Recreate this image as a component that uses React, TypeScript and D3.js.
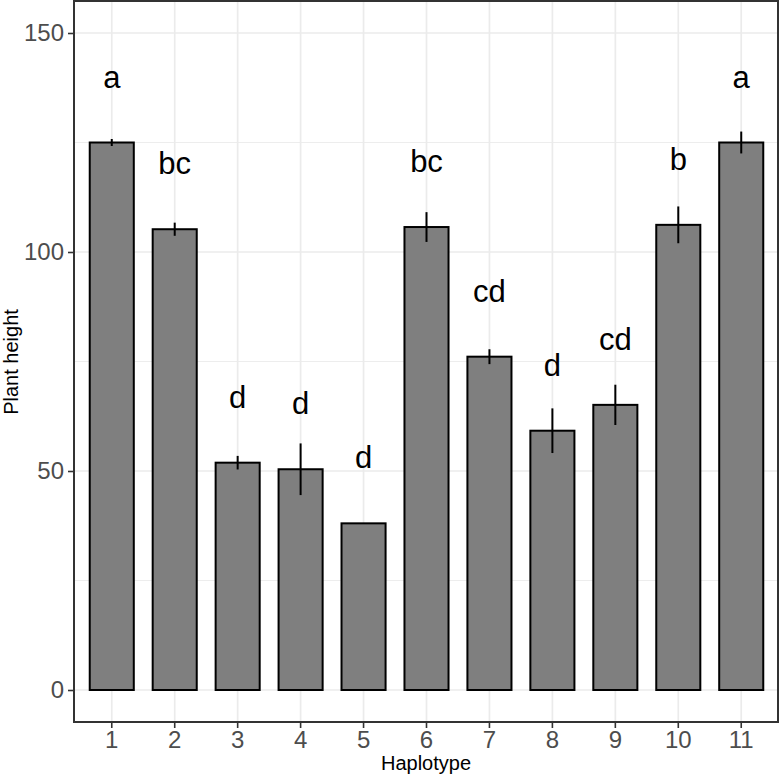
import { FC, useRef, useEffect } from 'react'
import * as d3 from 'd3'

const haplotypes = ['1', '2', '3', '4', '5', '6', '7', '8', '9', '10', '11']
const meanHeight = [125, 105.2, 51.9, 50.4, 38.05, 105.7, 76.1, 59.2, 65.1, 106.2, 125]
const seHeight = [0.8, 1.5, 1.55, 5.9, 0, 3.4, 1.7, 5.1, 4.6, 4.2, 2.5]
const groupLetters = ['a', 'bc', 'd', 'd', 'd', 'bc', 'cd', 'd', 'cd', 'b', 'a']
const yMajorTicks = [0, 50, 100, 150]
const yMinorTicks = [25, 75, 125]

const LETTER_OFFSET = 15

const App: FC = () => {
  const svgRef = useRef<SVGSVGElement>(null)

  useEffect(() => {
    if (!svgRef.current) return

    const width = 779
    const height = 778
    const panel = { left: 74, right: 778, top: 1, bottom: 722 }
    const font = '"Liberation Sans", Arial, sans-serif'

    const svg = d3.select(svgRef.current)
    svg.selectAll('*').remove()
    svg.attr('width', width).attr('height', height)

    const xScale = d3.scaleBand<string>()
      .domain(haplotypes)
      .range([panel.left, 779])
      .paddingInner(0)
      .paddingOuter(0.1)

    const yScale = d3.scaleLinear()
      .domain([0, 150])
      .range([690, 33])

    const cx = (h: string) => (xScale(h) || 0) + xScale.bandwidth() / 2
    const barWidth = xScale.bandwidth() * 0.7

    // panel background + grid
    svg.append('rect')
      .attr('x', panel.left)
      .attr('y', panel.top)
      .attr('width', panel.right - panel.left)
      .attr('height', panel.bottom - panel.top)
      .attr('fill', '#ffffff')

    svg.append('g')
      .selectAll('line')
      .data(yMinorTicks)
      .join('line')
      .attr('x1', panel.left)
      .attr('x2', panel.right)
      .attr('y1', d => yScale(d))
      .attr('y2', d => yScale(d))
      .attr('stroke', '#ebebeb')
      .attr('stroke-width', 0.9)

    svg.append('g')
      .selectAll('line')
      .data(yMajorTicks)
      .join('line')
      .attr('x1', panel.left)
      .attr('x2', panel.right)
      .attr('y1', d => yScale(d))
      .attr('y2', d => yScale(d))
      .attr('stroke', '#ebebeb')
      .attr('stroke-width', 1.7)

    svg.append('g')
      .selectAll('line')
      .data(haplotypes)
      .join('line')
      .attr('x1', d => cx(d))
      .attr('x2', d => cx(d))
      .attr('y1', panel.top)
      .attr('y2', panel.bottom)
      .attr('stroke', '#ebebeb')
      .attr('stroke-width', 1.7)

    // bars
    svg.append('g')
      .selectAll('rect')
      .data(haplotypes)
      .join('rect')
      .attr('x', d => cx(d) - barWidth / 2)
      .attr('y', (_, i) => yScale(meanHeight[i]))
      .attr('width', barWidth)
      .attr('height', (_, i) => yScale(0) - yScale(meanHeight[i]))
      .attr('fill', '#7f7f7f')
      .attr('stroke', '#000000')
      .attr('stroke-width', 2)

    // error bars
    svg.append('g')
      .selectAll('line')
      .data(haplotypes)
      .join('line')
      .attr('x1', d => cx(d))
      .attr('x2', d => cx(d))
      .attr('y1', (_, i) => yScale(meanHeight[i] - seHeight[i]))
      .attr('y2', (_, i) => yScale(meanHeight[i] + seHeight[i]))
      .attr('stroke', '#000000')
      .attr('stroke-width', 2)

    // significance letters
    svg.append('g')
      .selectAll('text')
      .data(haplotypes)
      .join('text')
      .attr('x', d => cx(d))
      .attr('y', (_, i) => yScale(meanHeight[i] + LETTER_OFFSET))
      .attr('dy', '0.35em')
      .attr('text-anchor', 'middle')
      .attr('font-family', font)
      .attr('font-size', '31px')
      .attr('fill', '#000000')
      .text((_, i) => groupLetters[i])

    // panel border
    svg.append('rect')
      .attr('x', panel.left)
      .attr('y', panel.top)
      .attr('width', panel.right - panel.left)
      .attr('height', panel.bottom - panel.top)
      .attr('fill', 'none')
      .attr('stroke', '#333333')
      .attr('stroke-width', 2)

    // y axis
    const yAxis = svg.append('g')
      .attr('transform', `translate(${panel.left},0)`)
      .call(d3.axisLeft(yScale).tickValues(yMajorTicks).tickSize(6).tickPadding(4))
    yAxis.select('.domain').remove()
    yAxis.selectAll('line').attr('stroke', '#333333').attr('stroke-width', 1.6)
    yAxis.selectAll('text')
      .attr('fill', '#4d4d4d')
      .attr('font-family', font)
      .attr('font-size', '24px')

    // x axis
    const xAxis = svg.append('g')
      .attr('transform', `translate(0,${panel.bottom})`)
      .call(d3.axisBottom(xScale).tickSize(6).tickPadding(3))
    xAxis.select('.domain').remove()
    xAxis.selectAll('line').attr('stroke', '#333333').attr('stroke-width', 1.6)
    xAxis.selectAll('text')
      .attr('fill', '#4d4d4d')
      .attr('font-family', font)
      .attr('font-size', '24px')

    svg.append('text')
      .attr('x', (panel.left + panel.right) / 2)
      .attr('y', 770)
      .attr('text-anchor', 'middle')
      .attr('font-family', font)
      .attr('font-size', '20px')
      .attr('fill', '#000000')
      .text('Haplotype')

    svg.append('text')
      .attr('transform', 'rotate(-90)')
      .attr('x', -362)
      .attr('y', 18)
      .attr('text-anchor', 'middle')
      .attr('font-family', font)
      .attr('font-size', '20px')
      .attr('fill', '#000000')
      .text('Plant height')
  }, [])

  return (
    <div style={{ position: 'absolute', left: 0, top: 0, background: '#ffffff' }}>
      <svg ref={svgRef} style={{ display: 'block' }} />
    </div>
  )
}

export default App
